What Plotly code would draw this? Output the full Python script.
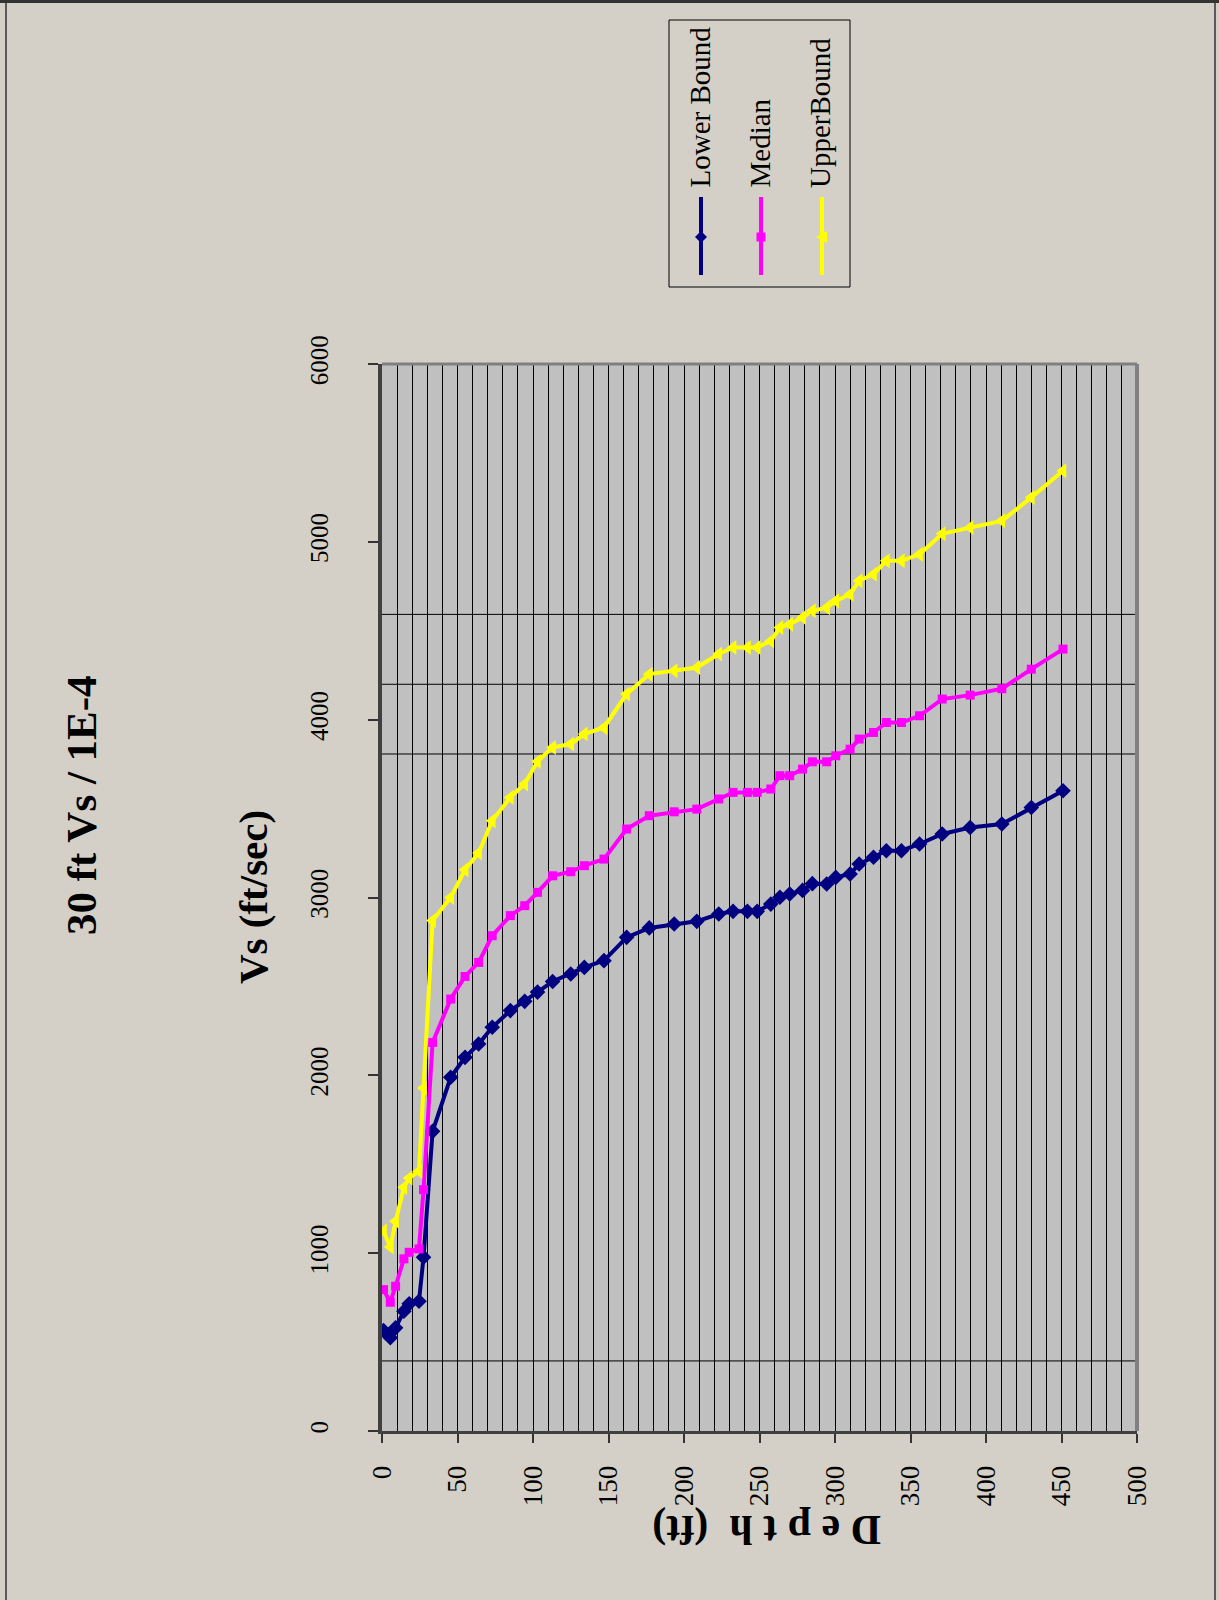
import plotly.graph_objects as go

# ---------------- data ----------------
depth = [1, 5.5, 9, 14.5, 18, 24.5, 27.5, 33.5, 45.5, 55, 64, 73, 85, 94.5, 103, 113,
         125, 134, 147, 162, 177, 193.5, 208.5, 223, 232.5, 242, 248.5, 257.5, 263.5, 270,
         278.5, 285, 294.5, 300.5, 310, 316, 325.5, 334, 344, 356, 371, 389.5, 410.5, 430, 451]

lower_bound = [565, 524, 580, 673, 715, 730, 977, 1685, 1989, 2101, 2176, 2270, 2364, 2416, 2468, 2528,
               2570, 2607, 2645, 2776, 2829, 2851, 2866, 2907, 2922, 2922, 2922, 2963, 3001, 3020,
               3040, 3078, 3076, 3113, 3132, 3188, 3226, 3263, 3263, 3301, 3357, 3394, 3413, 3506, 3600]

median = [795, 724, 814, 968, 1005, 1024, 1357, 2185, 2429, 2556, 2635, 2785, 2898, 2954, 3029, 3122,
          3145, 3179, 3216, 3385, 3460, 3482, 3497, 3554, 3591, 3591, 3591, 3610, 3685, 3685,
          3722, 3763, 3763, 3797, 3834, 3891, 3928, 3984, 3984, 4022, 4116, 4138, 4174, 4284, 4397]

upper_bound = [1124, 1035, 1179, 1370, 1423, 1460, 1929, 2870, 3000, 3156, 3250, 3432, 3563, 3638, 3765, 3844,
               3863, 3919, 3956, 4144, 4256, 4275, 4293, 4369, 4406, 4406, 4406, 4443, 4518, 4537,
               4574, 4612, 4630, 4668, 4705, 4781, 4818, 4893, 4893, 4930, 5045, 5080, 5118, 5249, 5400]

series_names = ["Lower Bound", "Median", "UpperBound"]
x_ticks = [0, 50, 100, 150, 200, 250, 300, 350, 400, 450, 500]
y_ticks = [0, 1000, 2000, 3000, 4000, 5000, 6000]
extra_hlines = [394, 3807, 4199, 4592]   # stray horizontal rules seen in the chart

title_text = "<b>30 ft Vs / 1E-4</b>"
y_title_text = "<b>Vs (ft/sec)</b>"
x_title_text = "<b>D e p t h  (ft)</b>"

# ---------------- styling ----------------
W, H = 1219, 1600
FONT = "Liberation Serif"
BG = "#D4D0C8"
colors = ["#000080", "#FF00FF", "#FFFF00"]
symbols = ["diamond", "square", "triangle-left"]
msizes = [12, 9, 13]


def px(x):
    return x / W


def py(y):
    return 1 - y / H


fig = go.Figure()

for name, vals, c, s, sz in zip(series_names, [lower_bound, median, upper_bound], colors, symbols, msizes):
    fig.add_trace(go.Scatter(
        x=depth, y=vals, mode="lines+markers", name=name,
        line=dict(color=c, width=4),
        marker=dict(symbol=s, size=sz, color=c, line=dict(width=0)),
        showlegend=False))

fig.update_layout(
    width=W, height=H, autosize=False,
    margin=dict(l=0, r=0, t=0, b=0),
    paper_bgcolor=BG,
    plot_bgcolor="#C0C0C0",
    font=dict(family=FONT, color="black"),
    xaxis=dict(
        domain=[px(382), px(1137)], range=[0, 500], anchor="y",
        tickmode="array", tickvals=x_ticks, ticktext=[str(v) for v in x_ticks],
        ticks="outside", ticklen=9, tickwidth=2, tickcolor="#333333",
        tickangle=-90, tickfont=dict(size=27, family=FONT),
        ticklabelstandoff=12,
        showline=True, linecolor="#404040", linewidth=3,
        showgrid=True, gridcolor="black", gridwidth=1,
        minor=dict(tick0=0, dtick=10, showgrid=True, gridcolor="black", gridwidth=1, ticks=""),
        zeroline=False, automargin=False, fixedrange=True),
    yaxis=dict(
        domain=[py(1431), py(364)], range=[0, 6000], anchor="x",
        tickmode="array", tickvals=y_ticks, ticktext=[str(v) for v in y_ticks],
        ticks="outside", ticklen=10, tickwidth=2, tickcolor="#333333",
        tickangle=-90, tickfont=dict(size=25, family=FONT),
        ticklabelstandoff=30,
        showline=True, linecolor="#404040", linewidth=4,
        showgrid=False, zeroline=False, automargin=False, fixedrange=True),
)

shapes = []
# plot-area 3D-ish borders (top & right)
shapes.append(dict(type="line", xref="x domain", yref="y domain", x0=0, x1=1, y0=1, y1=1,
                   line=dict(color="#808080", width=3)))
shapes.append(dict(type="line", xref="x domain", yref="y domain", x0=1, x1=1, y0=0, y1=1,
                   line=dict(color="#808080", width=4)))
# stray horizontal rules
for v in extra_hlines:
    shapes.append(dict(type="line", xref="x domain", yref="y", x0=0, x1=1, y0=v, y1=v,
                       line=dict(color="black", width=1), layer="below"))

# custom rotated legend
leg_box = (669, 20, 850, 287)
leg_x = [701, 761, 822]
shapes.append(dict(type="rect", xref="paper", yref="paper",
                   x0=px(leg_box[0]), x1=px(leg_box[2]), y0=py(leg_box[3]), y1=py(leg_box[1]),
                   line=dict(color="black", width=1), fillcolor="rgba(0,0,0,0)"))
for c, s, lx in zip(colors, symbols, leg_x):
    shapes.append(dict(type="line", xref="paper", yref="paper", x0=px(lx), x1=px(lx),
                       y0=py(197), y1=py(275), line=dict(color=c, width=4)))
    cy = 237
    if s == "diamond":
        pts = [(lx, cy - 6), (lx + 6, cy), (lx, cy + 6), (lx - 6, cy)]
    elif s == "square":
        pts = [(lx - 4.5, cy - 4.5), (lx + 4.5, cy - 4.5), (lx + 4.5, cy + 4.5), (lx - 4.5, cy + 4.5)]
    else:
        pts = [(lx - 6, cy), (lx + 5, cy - 6), (lx + 5, cy + 6)]
    path = "M " + " L ".join(f"{px(a):.5f},{py(b):.5f}" for a, b in pts) + " Z"
    shapes.append(dict(type="path", xref="paper", yref="paper", path=path,
                       fillcolor=c, line=dict(color=c, width=0)))

# outer frame
shapes.append(dict(type="line", xref="paper", yref="paper", x0=px(6), x1=px(6), y0=0, y1=1,
                   line=dict(color="#333333", width=1.5)))
shapes.append(dict(type="line", xref="paper", yref="paper", x0=px(1215), x1=px(1215), y0=0, y1=1,
                   line=dict(color="#333333", width=1.5)))
shapes.append(dict(type="line", xref="paper", yref="paper", x0=0, x1=1, y0=py(1.5), y1=py(1.5),
                   line=dict(color="#333333", width=3)))
fig.update_layout(shapes=shapes)

annotations = [
    dict(text=title_text, x=px(81), y=py(805), xref="paper", yref="paper", textangle=-90,
         showarrow=False, font=dict(size=43, family=FONT), xanchor="center", yanchor="middle"),
    dict(text=y_title_text, x=px(253), y=py(897), xref="paper", yref="paper", textangle=-90,
         showarrow=False, font=dict(size=41, family=FONT), xanchor="center", yanchor="middle"),
    dict(text=x_title_text, x=px(766), y=py(1530), xref="paper", yref="paper", textangle=180,
         showarrow=False, font=dict(size=42, family=FONT), xanchor="center", yanchor="middle"),
]
for name, lx in zip(series_names, leg_x):
    annotations.append(dict(text=name, x=px(lx - 2), y=py(190), xref="paper", yref="paper",
                            textangle=-90, showarrow=False, font=dict(size=29, family=FONT),
                            xanchor="center", yanchor="bottom"))
fig.update_layout(annotations=annotations)

fig.write_html(
    "out.html",
    config={"displayModeBar": False},
    post_script="document.body.style.margin='0';document.body.style.background='" + BG + "';",
)
